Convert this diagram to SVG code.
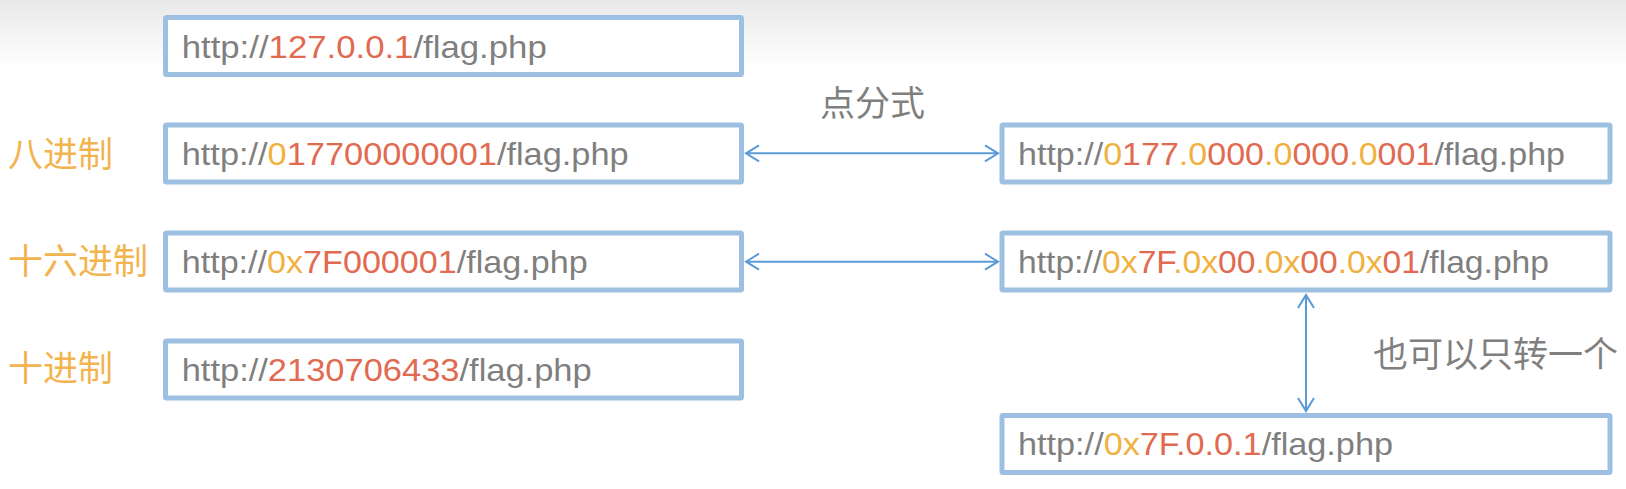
<svg xmlns="http://www.w3.org/2000/svg" width="1626" height="489" viewBox="0 0 1626 489">
<defs>
  <linearGradient id="bg" x1="0" y1="0" x2="0" y2="1">
    <stop offset="0" stop-color="#e9e9e9"/>
    <stop offset="1" stop-color="#ffffff"/>
  </linearGradient>
  <marker id="ah" viewBox="-15 -10 17 20" refX="0" refY="0" markerWidth="17" markerHeight="20" markerUnits="userSpaceOnUse" orient="auto-start-reverse">
    <path d="M -13 -8 L 0 0 L -13 8" fill="none" stroke="#5b9bd5" stroke-width="2"/>
  </marker>
  <style>
    .box { fill: #ffffff; stroke: #9dc0e2; stroke-width: 5; }
    .url { font-family: "Liberation Sans", Arial, sans-serif; font-size: 32px; fill: #7f7f7f; }
    .r { fill: #e16a50; }
    .o { fill: #f1b13f; }
    .lbl { font-family: "Noto Sans CJK SC", sans-serif; font-size: 35px; fill: #f2b44e; }
    .note { font-family: "Noto Sans CJK SC", sans-serif; font-size: 35px; fill: #7f7f7f; }
    .conn { stroke: #5b9bd5; stroke-width: 2; fill: none; marker-start: url(#ah); marker-end: url(#ah); }
  </style>
</defs>
<rect x="0" y="0" width="1626" height="489" fill="#ffffff"/>
<rect x="0" y="0" width="1626" height="70" fill="url(#bg)"/>

<g id="labels">
  <text class="lbl" x="8" y="167">八进制</text>
  <text class="lbl" x="8" y="274">十六进制</text>
  <text class="lbl" x="8" y="381">十进制</text>
  <text class="note" x="820" y="116">点分式</text>
  <text class="note" x="1373" y="367">也可以只转一个</text>
</g>

<g id="node-dec-dotted">
  <rect class="box" x="165.5" y="17.5" width="576" height="57" rx="1"/>
  <text class="url" x="181.7" y="57.5" textLength="365" lengthAdjust="spacingAndGlyphs">http://<tspan class="r">127.0.0.1</tspan>/flag.php</text>
</g>

<g id="node-octal">
  <rect class="box" x="165.5" y="125" width="576" height="57" rx="1"/>
  <text class="url" x="181.7" y="165" textLength="447" lengthAdjust="spacingAndGlyphs">http://<tspan class="o">0</tspan><tspan class="r">17700000001</tspan>/flag.php</text>
</g>

<g id="node-hex">
  <rect class="box" x="165.5" y="233" width="576" height="57" rx="1"/>
  <text class="url" x="181.7" y="273" textLength="406" lengthAdjust="spacingAndGlyphs">http://<tspan class="o">0x</tspan><tspan class="r">7F000001</tspan>/flag.php</text>
</g>

<g id="node-decimal">
  <rect class="box" x="165.5" y="341" width="576" height="57" rx="1"/>
  <text class="url" x="181.7" y="381" textLength="410" lengthAdjust="spacingAndGlyphs">http://<tspan class="r">2130706433</tspan>/flag.php</text>
</g>

<g id="node-octal-dotted">
  <rect class="box" x="1002" y="125" width="608" height="57" rx="1"/>
  <text class="url" x="1018" y="165" textLength="547" lengthAdjust="spacingAndGlyphs">http://<tspan class="o">0</tspan><tspan class="r">177</tspan><tspan class="o">.0</tspan><tspan class="r">000</tspan><tspan class="o">.0</tspan><tspan class="r">000</tspan><tspan class="o">.0</tspan><tspan class="r">001</tspan>/flag.php</text>
</g>

<g id="node-hex-dotted">
  <rect class="box" x="1002" y="233" width="608" height="57" rx="1"/>
  <text class="url" x="1018" y="273" textLength="531" lengthAdjust="spacingAndGlyphs">http://<tspan class="o">0x</tspan><tspan class="r">7F</tspan><tspan class="o">.0x</tspan><tspan class="r">00</tspan><tspan class="o">.0x</tspan><tspan class="r">00</tspan><tspan class="o">.0x</tspan><tspan class="r">01</tspan>/flag.php</text>
</g>

<g id="node-hex-partial">
  <rect class="box" x="1002" y="415.5" width="608" height="57" rx="1"/>
  <text class="url" x="1018" y="454.5" textLength="375" lengthAdjust="spacingAndGlyphs">http://<tspan class="o">0x</tspan><tspan class="r">7F.0.0.1</tspan>/flag.php</text>
</g>

<g id="connectors">
  <line class="conn" x1="746" y1="153.3" x2="998" y2="153.3"/>
  <line class="conn" x1="746" y1="261.7" x2="998" y2="261.7"/>
  <line class="conn" x1="1306" y1="295" x2="1306" y2="411"/>
</g>
</svg>
